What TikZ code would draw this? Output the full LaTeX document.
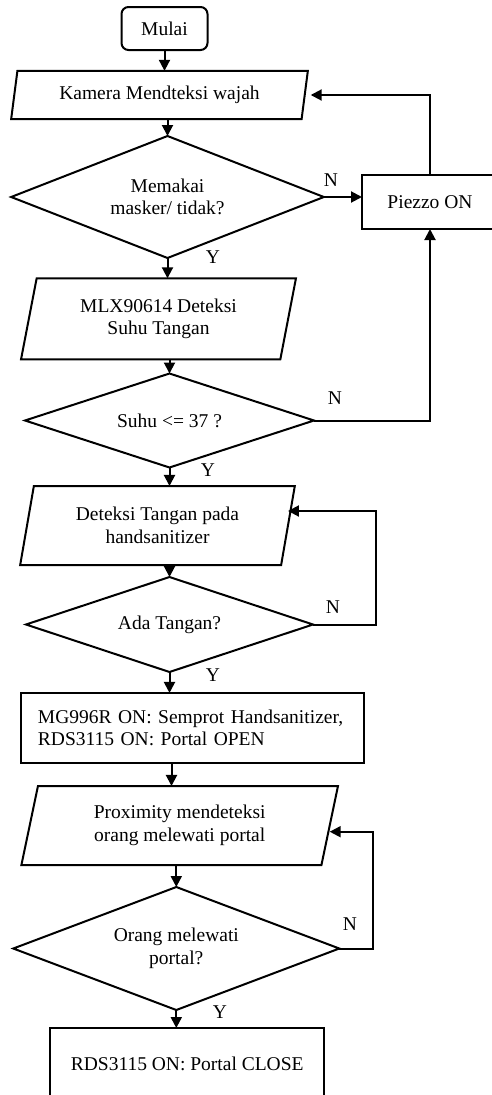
\documentclass[tikz,border=0pt]{standalone}
\usepackage{fontspec}
\setmainfont{Liberation Serif}
\usetikzlibrary{shapes.geometric,arrows.meta,calc}
\begin{document}
\begin{tikzpicture}[x=1pt,y=-1pt,line width=2pt,
  font=\fontsize{19.5}{22.5}\selectfont,
  every node/.style={inner sep=0pt, outer sep=0pt},
  proc/.style={draw, rectangle, align=center},
  io/.style={draw, trapezium, trapezium left angle=76, trapezium right angle=104, trapezium stretches=true, align=center},
  dec/.style={rectangle, align=center},
  arr/.style={-{Triangle[length=11pt,width=11pt]}}]
\useasboundingbox (0,0) rectangle (492,1095);

\node[draw, rounded corners=7pt, minimum width=86pt, minimum height=43pt] (start) at (164.5,28.5) {Mulai};
\node[io, minimum width=297pt, minimum height=48.3pt] (kam) at (159.5,95) {Kamera Mendteksi wajah};
\node[dec, minimum width=312.7pt, minimum height=122pt] (d1) at (167.5,197) {Memakai\\masker/ tidak?};
\node[proc, minimum width=136pt, minimum height=54pt] (pz) at (430,202) {Piezzo ON};
\node[io, minimum width=275pt, minimum height=81pt] (mlx) at (158.5,318.8) {MLX90614 Deteksi\\Suhu Tangan};
\node[dec, minimum width=289pt, minimum height=94pt] (d2) at (169.5,420.5) {Suhu <= 37 ?};
\node[io, minimum width=275pt, minimum height=79pt] (det) at (157.5,525.5) {Deteksi Tangan pada\\handsanitizer};
\node[dec, minimum width=287pt, minimum height=95pt] (d3) at (169.5,624.5) {Ada Tangan?};
\node[proc, minimum width=343.3pt, minimum height=69.7pt, inner xsep=17.3pt, text width=308.7pt, align=left] (mg) at (192.3,727.8) {MG996R ON: Semprot Handsanitizer,\\RDS3115 ON: Portal OPEN};
\node[io, minimum width=317.3pt, minimum height=79pt] (prox) at (179.7,825.5) {Proximity mendeteksi\\orang melewati portal};
\node[dec, minimum width=326pt, minimum height=123pt] (d4) at (176.3,948.5) {Orang melewati\\portal?};
\node[proc, minimum width=274.3pt, minimum height=72pt] (fin) at (187.2,1064) {RDS3115 ON: Portal CLOSE};

% decision outlines
\foreach \d in {d1,d2,d3,d4}
  \draw (\d.north) -- (\d.east) -- (\d.south) -- (\d.west) -- cycle;

% main flow
\draw[arr] (start.south) -- (start.south |- kam.north);
\draw[arr] (d1.north |- kam.south) -- (d1.north);
\draw[arr] (d1.south) -- (d1.south |- mlx.north);
\draw[arr] (mlx.south -| d2.north) -- (d2.north);
\draw[arr] (d2.south) -- (d2.south |- det.north);
\draw[arr] (det.south -| d3.north) -- (d3.north);
\draw[arr] (d3.south) -- (d3.south |- mg.north);
\draw[arr] ([xshift=2pt]d3.south |- mg.south) -- ([xshift=2pt]d3.south |- prox.north);
\draw[arr] (prox.south -| d4.north) -- (d4.north);
\draw[arr] (d4.south) -- (d4.south |- fin.north);

% loops
\draw[arr] (d1.east) -- (d1.east -| pz.west);
\draw[arr] (pz.north) |- ([xshift=6pt]kam.east);
\draw[arr] (d2.east) -| (pz.south);
\coordinate (c3) at (376,511);
\draw[arr] (d3.east) -| (c3) -- (c3 -| det.east);
\coordinate (c4) at (373.3,831.7);
\draw[arr] (d4.east) -| (c4) -- (c4 -| prox.east);

% labels
\node (n1) at (331,180) {N};
\node (y1) at (213,257) {Y};
\node (n2) at (335,398) {N};
\node (y2) at (208,470) {Y};
\node (n3) at (333,607) {N};
\node (y3) at (213,675) {Y};
\node (n4) at (350,924) {N};
\node (y4) at (220,1012) {Y};
\end{tikzpicture}
\end{document}
